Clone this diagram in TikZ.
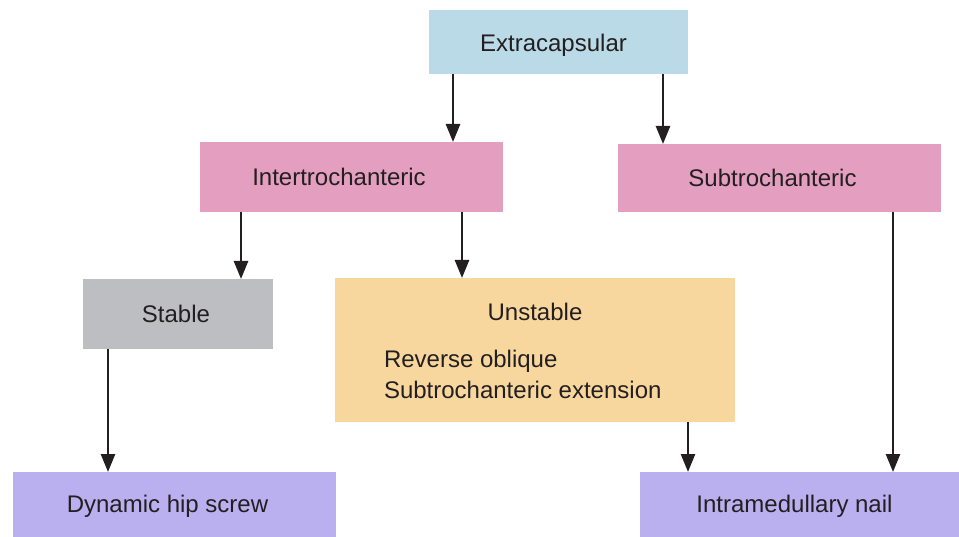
\documentclass[tikz,border=0pt]{standalone}
\usepackage{fontspec}
\setmainfont{Liberation Sans}
\usetikzlibrary{arrows.meta}
\definecolor{cblue}{RGB}{185,218,230}
\definecolor{cpink}{RGB}{228,159,192}
\definecolor{cgray}{RGB}{189,190,194}
\definecolor{corange}{RGB}{248,215,158}
\definecolor{clav}{RGB}{186,176,240}
\definecolor{ctext}{RGB}{35,31,32}
\tikzset{
  box/.style={inner sep=0pt, outer sep=0pt, draw=none},
  txt/.style={inner sep=0pt, outer sep=0pt, text=ctext,
    font=\fontsize{24}{28}\selectfont},
  arr/.style={draw=ctext, line width=2.6pt,
    -{Triangle[length=18pt,width=14pt]}}
}
\begin{document}
\begin{tikzpicture}[x=1pt,y=-1pt]
\useasboundingbox (0,0) rectangle (959,537);
\node[box, fill=cblue, minimum width=259pt, minimum height=64pt] (ext) at (558.5,42) {};
\node[box, fill=cpink, minimum width=303pt, minimum height=70pt] (inter) at (351.5,177) {};
\node[box, fill=cpink, minimum width=323pt, minimum height=68pt] (sub) at (779.5,178) {};
\node[box, fill=cgray, minimum width=190pt, minimum height=70pt] (stab) at (178,314) {};
\node[box, fill=corange, minimum width=400pt, minimum height=144pt] (unst) at (535,350) {};
\node[box, fill=clav, minimum width=323pt, minimum height=65pt] (dhs) at (174.5,504.5) {};
\node[box, fill=clav, minimum width=319pt, minimum height=65pt] (imn) at (799.5,504.5) {};
\node[txt, anchor=base] (extt) at (553.5,52) {Extracapsular};
\node[txt, anchor=base] (intert) at (339,186) {Intertrochanteric};
\node[txt, anchor=base] (subt) at (772.5,187) {Subtrochanteric};
\node[txt, anchor=base] (stabt) at (176,323) {Stable};
\node[txt, anchor=base] (unstt) at (535,321) {Unstable};
\node[txt, anchor=base west] (rev) at (384,368) {Reverse oblique};
\node[txt, anchor=base west] (subx) at (384,399) {Subtrochanteric extension};
\node[txt, anchor=base] (dhst) at (167.5,512) {Dynamic hip screw};
\node[txt, anchor=base] (imnt) at (794.5,512) {Intramedullary nail};
\draw[arr] (ext.south -| 453,0) -- (inter.north -| 453,0);
\draw[arr] (ext.south -| 663,0) -- (sub.north -| 663,0);
\draw[arr] (inter.south -| 241,0) -- (stab.north -| 241,0);
\draw[arr] (inter.south -| 462,0) -- (unst.north -| 462,0);
\draw[arr] (stab.south -| 108,0) -- (dhs.north -| 108,0);
\draw[arr] (unst.south -| 688,0) -- (imn.north -| 688,0);
\draw[arr] (sub.south -| 893,0) -- (imn.north -| 893,0);
\end{tikzpicture}
\end{document}
